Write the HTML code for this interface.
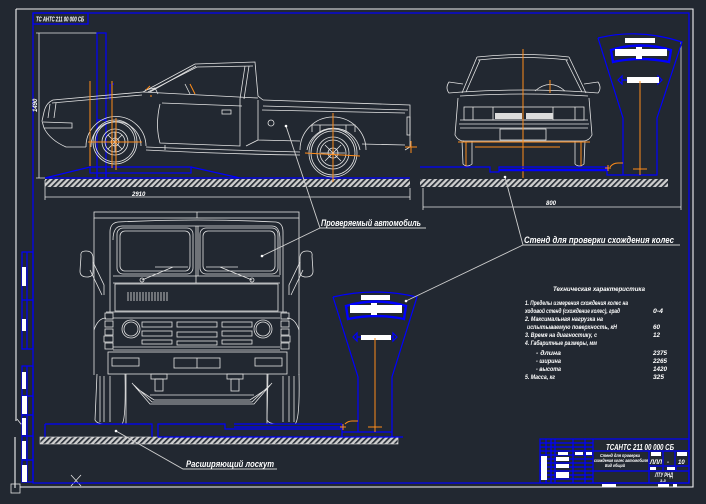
<!DOCTYPE html>
<html><head><meta charset="utf-8">
<style>
html,body{margin:0;padding:0;background:#222831;}
svg{display:block}
text{font-family:"Liberation Sans","DejaVu Sans",sans-serif;font-style:italic;font-weight:bold;fill:#ffffff}
.w{stroke:#e4e4e4;stroke-width:0.8;fill:none}
.w2{stroke:#f2f2f2;stroke-width:1.1;fill:none}
.b{stroke:#0000ff;stroke-width:1.2;fill:none}
.bt{stroke:#0000ff;stroke-width:2.4;fill:none}
.o{stroke:#ff8c1a;stroke-width:1;fill:none}
.g{stroke:#cfcfcf;stroke-width:0.9;fill:none}
</style></head><body>
<svg width="706" height="504" viewBox="0 0 706 504" xmlns="http://www.w3.org/2000/svg">
<defs>
<pattern id="h" width="4" height="4" patternUnits="userSpaceOnUse" patternTransform="rotate(45)">
<rect width="4" height="4" fill="#cfcfcf"/>
<rect width="1.7" height="4" fill="#2a3039"/>
</pattern>
</defs>
<rect width="706" height="504" fill="#222831"/>

<!-- outer white frame -->
<path class="w2" d="M16,9 L693,9 L693,487 L20,487 M16,9 L16,421 M15,437 L15,488"/>
<path class="w" d="M17,419 L21,424 L26,419"/>
<rect x="11" y="484" width="9" height="9" class="w"/>
<path class="w" d="M71,475 L81,486 M81,475 L71,486"/>
<!-- blue frame -->
<rect x="33" y="13" width="656" height="470" class="b"/>

<!-- left blue strip -->
<rect x="22" y="252" width="11" height="97" class="b"/>
<path class="b" d="M27,252 L27,349 M22,300 L33,300"/>
<rect x="22" y="267" width="4" height="19" fill="#fff"/>
<rect x="22" y="319" width="4" height="12" fill="#fff"/>
<rect x="22" y="366" width="11" height="116" class="b"/>
<path class="b" d="M27,366 L27,482 M22,396 L33,396 M22,415 L33,415 M22,436 L33,436 M22,460 L33,460"/>
<rect x="22" y="372" width="4" height="17" fill="#fff"/>
<rect x="22" y="396" width="5" height="18" fill="#fff"/>
<rect x="22" y="418" width="4" height="17" fill="#fff"/>
<rect x="22" y="441" width="4" height="18" fill="#fff"/>
<rect x="22" y="465" width="5" height="17" fill="#fff"/>

<!-- top-left title box -->
<rect x="33" y="13" width="55" height="11" class="b"/>
<text x="36" y="21.5" font-size="7" textLength="48" lengthAdjust="spacingAndGlyphs">ТС АНТС 211 00 000 СБ</text>

<!-- ===== SIDE VIEW CAR ===== -->
<!-- dimension vertical -->
<path class="w" d="M39,33 L39,178 M36,33 L97,33 M36,178 L45,178"/>
<text x="0" y="0" font-size="6" transform="translate(37,112) rotate(-90)">1490</text>
<!-- blue post -->
<rect x="97" y="33" width="9" height="145" class="b"/>
<path class="b" d="M97,120 L106,120 M110,84 L110,100 M112,84 L114,84"/>
<!-- platform -->
<rect x="90" y="167" width="101" height="6" class="b"/>
<path class="b" d="M45,178 L90,167 M191,167 L240,178 M45,178 L410,178"/>
<!-- ground hatch -->
<rect x="45" y="179" width="365" height="8" fill="url(#h)"/>
<rect x="420" y="179" width="248" height="8" fill="url(#h)"/>
<!-- dims -->
<path class="w" d="M45,180 L45,200 M410,188 L410,200 M45,197 L410,197"/>
<text x="132" y="196" font-size="6">2910</text>
<path class="w" d="M423,188 L423,210 M681,42 L681,210 M423,207 L681,207"/>
<text x="546" y="205" font-size="6">800</text>

<!-- car body -->
<g class="w">
<path d="M42,121 L44,112 Q46,103 53,100 L143,92"/>
<path d="M52,103 L142,95"/>
<path d="M143,92 L195,64 L255,62 L258,96 L263,100"/>
<path d="M148,92 L197,67 L253,66"/>
<path d="M150,92 L196,66"/>
<path d="M245,66 L240,99 M249,66 L244,99"/>
<path d="M263,100 L410,105 L410,147 L405,150"/>
<path d="M263,106 L408,110 M262,110 L405,113"/>
<path d="M258,100 L258,140 L300,141"/>
<path d="M362,144 L405,145"/>
<path d="M300,150 A33,33 0 0 1 366,150"/>
<path d="M307,150 A27,27 0 0 1 360,150"/>
<path d="M146,147 Q220,150 300,152"/>
<path d="M146,150 Q220,154 300,155"/>
<path d="M86,147 A30,30 0 0 1 146,146"/>
<path d="M91,147 A25,25 0 0 1 141,146"/>
<path d="M42,121 L44,128 Q50,140 66,147 L86,147"/>
<path d="M43,122 L72,123 L72,128 L44,128"/>
<path d="M50,104 L48,118 M56,103 L54,118"/>
<path d="M160,104 Q155,125 160,143 L240,146 L240,99"/>
<path d="M162,103 L242,106"/>
<path d="M143,92 Q200,95 258,98"/>
<path d="M145,90 L155,88 L158,94"/>
<path d="M185,84 L190,94"/>
<rect x="222" y="110" width="9" height="4"/>
<circle cx="271" cy="123" r="3"/>
<rect x="407" y="117" width="3" height="18"/>
<path d="M165,145 L165,150 M246,146 L258,140"/>
<!-- front wheel -->
<circle cx="115" cy="142" r="22"/>
<circle cx="115" cy="142" r="20"/>
<circle cx="115" cy="142" r="13"/>
<circle cx="115" cy="142" r="10"/>
<circle cx="115" cy="142" r="4"/>
<path d="M105,142 L125,142 M115,132 L115,152 M108,135 L122,149 M122,135 L108,149"/>
<!-- rear wheel -->
<circle cx="333" cy="153" r="24"/>
<circle cx="333" cy="153" r="22"/>
<circle cx="333" cy="153" r="16"/>
<circle cx="333" cy="153" r="13"/>
<circle cx="333" cy="153" r="5"/>
<path d="M321,153 L345,153 M333,141 L333,165 M325,145 L341,161 M341,145 L325,161"/>
<path d="M312,132 L312,125 L355,125 L355,132 M320,125 L320,133 M346,125 L346,133"/>
</g>
<!-- orange centerlines side view -->
<g class="o">
<path d="M90,81 L90,166 M112,81 L112,168 M88,142 L142,142 M116,118 L116,170"/>
<path d="M333,113 L333,182 M305,153 L360,156"/>
<path d="M405,147 L417,147 M411,141 L411,153"/>
<path d="M146,90 L150,86 M190,84 L195,94"/>
<path d="M150,96 L152,96"/>
</g>

<!-- ===== FRONT VIEW CAR (top right) ===== -->
<g class="w">
<path d="M477,57 Q523,52 569,57 M478,60 Q523,55 568,60"/>
<path d="M477,57 L462,93 M569,57 L586,93 M480,60 L466,92 M566,60 L582,92"/>
<path d="M462,92 Q523,88 586,92 M460,96 Q523,92 588,96"/>
<path d="M463,84 L449,82 Q445,88 449,93 L462,92 M584,84 L598,82 Q602,88 598,93 L585,92"/>
<path d="M458,98 L455,135 Q458,141 464,141 M589,98 L592,135 Q589,141 583,141"/>
<rect x="464" y="107" width="120" height="13"/>
<path d="M473,107 L473,120 M493,107 L493,120 M523,107 L523,120 M553,107 L553,120 M575,107 L575,120"/>
<path d="M460,120 L588,120 M459,124 L589,124 M460,128 L588,128"/>
<rect x="500" y="129" width="46" height="11"/>
<path d="M463,141 L583,141"/>
<path d="M535,91 Q550,78 565,91"/>
<path d="M462,141 L463,164 Q467,168 472,164 L472,141 M575,141 L575,164 Q579,168 584,164 L585,141"/>
</g>
<rect x="495" y="113" width="27" height="6" fill="#dcdcdc"/>
<rect x="526" y="113" width="27" height="6" fill="#dcdcdc"/>
<g class="o">
<path d="M523,49 L523,178 M458,142 L590,142 M550,80 L550,93"/>
<path d="M466,142 L466,167 M581,142 L581,167 M475,147 L560,147"/>
</g>
<!-- front platform blue -->
<path class="b" d="M420,167 L490,167 L490,172 L499,172 L499,167 L608,167"/>
<path class="bt" d="M499,170 L608,170"/>

<!-- ===== STAND TOP RIGHT ===== -->
<g class="b">
<path d="M598,38 Q640,28 682,42 L657,118 L657,175 L607,175 L607,167"/>
<path d="M598,38 L623,118 L623,175"/>
<path d="M618,80 L622,76 L622,84 Z M662,80 L658,76 L658,84 Z M622,80 L658,80"/>
</g>
<path class="bt" d="M611,50 Q640,41 671,50 L669,62 Q640,56 613,62 Z"/>
<rect x="615" y="49" width="52" height="7" fill="#fff"/>
<rect x="636" y="47" width="6" height="12" fill="#fff"/>
<rect x="625" y="38" width="30" height="5" fill="#fff"/>
<rect x="627" y="77" width="32" height="6" fill="#fff"/>
<g class="o">
<path d="M640,81 L640,175 M633,169 L647,169"/>
<path d="M610,167 Q613,163 618,163 L623,163 M605,168 L611,168 M608,165 L608,171"/>
</g>

<!-- ===== TRUCK FRONT ===== -->
<g class="w">
<rect x="94" y="212" width="205" height="6"/>
<path d="M197,212 L197,218"/>
<path d="M94,218 L94,375 M299,218 L299,375"/>
<path d="M110,232 Q110,223 118,222 Q197,218 276,222 Q283,223 283,232 L283,312 M110,232 L110,312"/>
<path d="M113,240 Q113,226 122,226 L272,226 Q280,226 280,240 L280,275"/>
<rect x="117" y="228" width="76" height="46" rx="6"/>
<rect x="120" y="231" width="70" height="40" rx="5"/>
<rect x="200" y="228" width="78" height="46" rx="6"/>
<rect x="203" y="231" width="72" height="40" rx="5"/>
<path d="M196,226 L196,276 M198,226 L198,276"/>
<path d="M142,280 L173,267 M155,267 L188,267 M252,280 L220,267 M206,267 L238,267"/>
<circle cx="142" cy="280" r="2"/><circle cx="252" cy="280" r="2"/>
<path d="M113,276 L280,276 M113,283 L280,283 M196,276 L196,283"/>
<rect x="115" y="284" width="163" height="27"/>
<path d="M128,292 L128,301 M131,292 L131,301 M134,292 L134,301 M137,292 L137,301 M140,292 L140,301 M143,292 L143,301 M146,292 L146,301 M149,292 L149,301 M152,292 L152,301 M155,292 L155,301 M158,292 L158,301 M161,292 L161,301 M164,292 L164,301 M167,292 L167,301"/>
<path d="M106,312 L287,312 M113,318 L280,318"/>
<rect x="105" y="313" width="8" height="6"/><rect x="105" y="321" width="8" height="6"/>
<rect x="105" y="329" width="8" height="6"/><rect x="104" y="336" width="9" height="6"/><rect x="105" y="343" width="8" height="6"/>
<rect x="281" y="313" width="8" height="6"/><rect x="281" y="321" width="8" height="6"/>
<rect x="281" y="329" width="8" height="6"/><rect x="281" y="336" width="9" height="6"/><rect x="281" y="343" width="8" height="6"/>
<circle cx="131" cy="329" r="9"/><circle cx="131" cy="329" r="7"/>
<circle cx="263" cy="329" r="9"/><circle cx="263" cy="329" r="7"/>
<rect x="142" y="322" width="30" height="5"/><rect x="177" y="322" width="40" height="5"/><rect x="222" y="322" width="30" height="5"/>
<rect x="142" y="331" width="30" height="5"/><rect x="177" y="332" width="40" height="5"/><rect x="222" y="331" width="30" height="5"/>
<rect x="142" y="340" width="30" height="4"/><rect x="177" y="341" width="40" height="4"/><rect x="222" y="340" width="30" height="4"/>
<path d="M113,347 L280,347 M113,350 L280,350"/>
<rect x="108" y="352" width="179" height="22"/>
<rect x="112" y="358" width="27" height="8"/>
<rect x="174" y="358" width="46" height="10"/>
<rect x="255" y="358" width="27" height="8"/>
<path d="M197,358 L197,368"/>
<path d="M81,256 Q80,251 86,251 Q93,251 93,258 L93,272 Q93,277 87,277 Q80,277 80,271 Z"/>
<path d="M93,262 L104,285 L104,295 M90,270 L102,295"/>
<path d="M312,256 Q313,251 307,251 Q300,251 300,258 L300,272 Q300,277 306,277 Q313,277 313,271 Z"/>
<path d="M300,262 L289,285 L289,295 M303,270 L291,295"/>
<path d="M94,330 Q98,318 106,318 M299,330 Q295,318 287,318"/>
<path d="M97,374 L95,420 Q97,424 105,424 L122,424 Q126,420 125,374 M100,376 L100,422 M104,376 L104,422 M110,376 L110,422"/>
<path d="M268,374 L267,420 Q269,424 277,424 L295,424 Q300,420 299,374 M283,376 L283,422 M289,376 L289,422 M294,376 L294,422"/>
<path d="M132,383 L150,404 L254,404 L272,383 M136,388 L154,400 L250,400 L268,388 M134,385 L152,402 L252,402 L270,385"/>
<path d="M150,395 L254,395"/>
<rect x="151" y="374" width="16" height="5"/><rect x="155" y="379" width="8" height="12"/>
<rect x="227" y="374" width="16" height="5"/><rect x="231" y="379" width="8" height="12"/>
<path d="M126,374 L126,424 M267,374 L267,424"/>
</g>
<!-- bottom ground -->
<rect x="40" y="437" width="358" height="7" fill="url(#h)" stroke="#e4e4e4" stroke-width="0.6"/>
<g class="b">
<path d="M45,424 L152,424 L152,437 M45,424 L45,437"/>
<path d="M158,437 L158,424 L225,424 L225,429 L342,429 M158,437 L403,437"/>
<path d="M234,424 L342,424 M234,427 L342,427 M342,424 L342,437"/>
<path d="M342,432 L392,432"/>
</g>

<!-- ===== STAND MIDDLE ===== -->
<g class="b">
<path d="M333,297 Q375,287 417,297 L392,377 L392,437"/>
<path d="M333,297 L358,377 L358,432"/>
<path d="M353,337 L357,333 L357,341 Z M397,337 L393,333 L393,341 Z M357,337 L393,337"/>
</g>
<path class="bt" d="M346,306 Q376,297 406,306 L404,319 Q376,313 348,319 Z"/>
<rect x="350" y="305" width="52" height="8" fill="#fff"/>
<rect x="371" y="303" width="6" height="12" fill="#fff"/>
<rect x="361" y="295" width="29" height="5" fill="#fff"/>
<rect x="361" y="335" width="30" height="5" fill="#fff"/>
<g class="o">
<path d="M375,338 L375,432 M368,427 L382,427"/>
<path d="M345,424 Q348,421 352,421 L358,421 M340,427 L346,427 M343,424 L343,430"/>
</g>

<!-- ===== LEADERS & LABELS ===== -->
<g class="g">
<path d="M286,126 L320,228 M262,256 L320,228 M320,228 L426,228"/>
<path d="M505,177 L523,245 M406,301 L523,245 M523,245 L680,245"/>
<path d="M116,431 L183,469 L277,469"/>
</g>
<circle cx="286" cy="126" r="1.3" fill="#fff"/>
<circle cx="262" cy="256" r="1.3" fill="#fff"/>
<circle cx="505" cy="177" r="1.3" fill="#fff"/>
<circle cx="406" cy="301" r="1.3" fill="#fff"/>
<circle cx="116" cy="431" r="1.3" fill="#fff"/>
<text x="321" y="226" font-size="9" textLength="100" lengthAdjust="spacingAndGlyphs">Проверяемый автомобиль</text>
<text x="524" y="243" font-size="9" textLength="150" lengthAdjust="spacingAndGlyphs">Стенд для проверки схождения колес</text>
<text x="186" y="467" font-size="9" textLength="88" lengthAdjust="spacingAndGlyphs">Расширяющий лоскут</text>

<!-- ===== SPECS ===== -->
<g font-size="6.5">
<text x="553" y="291" textLength="92" lengthAdjust="spacingAndGlyphs">Техническая характеристика</text>
<text x="525" y="305" textLength="103" lengthAdjust="spacingAndGlyphs">1. Пределы измерения схождения колес на</text>
<text x="525" y="313" textLength="95" lengthAdjust="spacingAndGlyphs">ходовой стенд (схождение колес), град</text>
<text x="525" y="321" textLength="78" lengthAdjust="spacingAndGlyphs">2. Максимальная нагрузка на</text>
<text x="527" y="329" textLength="90" lengthAdjust="spacingAndGlyphs">испытываемую поверхность, кН</text>
<text x="525" y="337" textLength="72" lengthAdjust="spacingAndGlyphs">3. Время на диагностику, с</text>
<text x="525" y="345" textLength="72" lengthAdjust="spacingAndGlyphs">4. Габаритные размеры, мм</text>
<text x="536" y="355" textLength="25" lengthAdjust="spacingAndGlyphs">- длина</text>
<text x="536" y="363" textLength="25" lengthAdjust="spacingAndGlyphs">- ширина</text>
<text x="536" y="371" textLength="25" lengthAdjust="spacingAndGlyphs">- высота</text>
<text x="525" y="379" textLength="30" lengthAdjust="spacingAndGlyphs">5. Масса, кг</text>
<text x="653" y="313" textLength="10" lengthAdjust="spacingAndGlyphs">0-4</text>
<text x="653" y="329" textLength="7" lengthAdjust="spacingAndGlyphs">60</text>
<text x="653" y="337" textLength="7" lengthAdjust="spacingAndGlyphs">12</text>
<text x="653" y="355" textLength="14" lengthAdjust="spacingAndGlyphs">2375</text>
<text x="653" y="363" textLength="14" lengthAdjust="spacingAndGlyphs">2265</text>
<text x="653" y="371" textLength="14" lengthAdjust="spacingAndGlyphs">1420</text>
<text x="653" y="379" textLength="11" lengthAdjust="spacingAndGlyphs">325</text>
</g>

<!-- ===== TITLE BLOCK ===== -->
<g class="b">
<rect x="540" y="439" width="149" height="44"/>
<path d="M546,439 L546,483 M551,439 L551,483 M555,439 L555,483 M573,439 L573,483 M585,439 L585,483 M593,439 L593,483"/>
<path d="M540,443 L593,443 M540,447 L593,447 M540,451 L689,451 M540,455 L593,455 M540,459 L593,459 M540,463 L593,463 M540,467 L593,467 M540,471 L689,471 M540,475 L593,475 M540,479 L593,479"/>
<path d="M649,451 L649,483 M649,466 L689,466 M663,451 L663,466 M675,451 L675,466 M663,466 L663,471 M676,466 L676,471"/>
</g>
<rect x="541" y="456" width="6" height="24" fill="#fff"/>
<rect x="556" y="457" width="13" height="4" fill="#fff"/>
<rect x="556" y="464" width="13" height="4" fill="#fff"/>
<rect x="556" y="472" width="13" height="6" fill="#fff"/>
<rect x="558" y="452" width="10" height="3" fill="#fff"/>
<rect x="575" y="452" width="8" height="3" fill="#fff"/>
<rect x="586" y="452" width="6" height="3" fill="#fff"/>
<rect x="651" y="452" width="10" height="4" fill="#fff"/>
<rect x="677" y="452" width="10" height="4" fill="#fff"/>
<rect x="650" y="467" width="6" height="3" fill="#fff"/>
<rect x="667" y="467" width="8" height="3" fill="#fff"/>
<text x="606" y="450" font-size="8" textLength="68" lengthAdjust="spacingAndGlyphs">ТСАНТС 211 00 000 СБ</text>
<g font-size="4.5">
<text x="600" y="457" textLength="40" lengthAdjust="spacingAndGlyphs">Стенд для проверки</text>
<text x="594" y="462" textLength="54" lengthAdjust="spacingAndGlyphs">схождения колес автомобиля</text>
<text x="605" y="467" textLength="20" lengthAdjust="spacingAndGlyphs">Вид общий</text>
</g>
<text x="650" y="464" font-size="6" textLength="12" lengthAdjust="spacingAndGlyphs">ЛЛЛ</text>
<text x="667" y="464" font-size="6">-</text>
<text x="678" y="464" font-size="6">10</text>
<text x="655" y="477" font-size="6" textLength="18" lengthAdjust="spacingAndGlyphs">ЛТУ РНД</text>
<text x="660" y="482" font-size="4">3-3</text>
<rect x="602" y="484" width="14" height="3" fill="#fff"/>
<rect x="658" y="484" width="11" height="3" fill="#fff"/>
<rect x="673" y="484" width="4" height="3" fill="#fff"/>
</svg>
</body></html>
